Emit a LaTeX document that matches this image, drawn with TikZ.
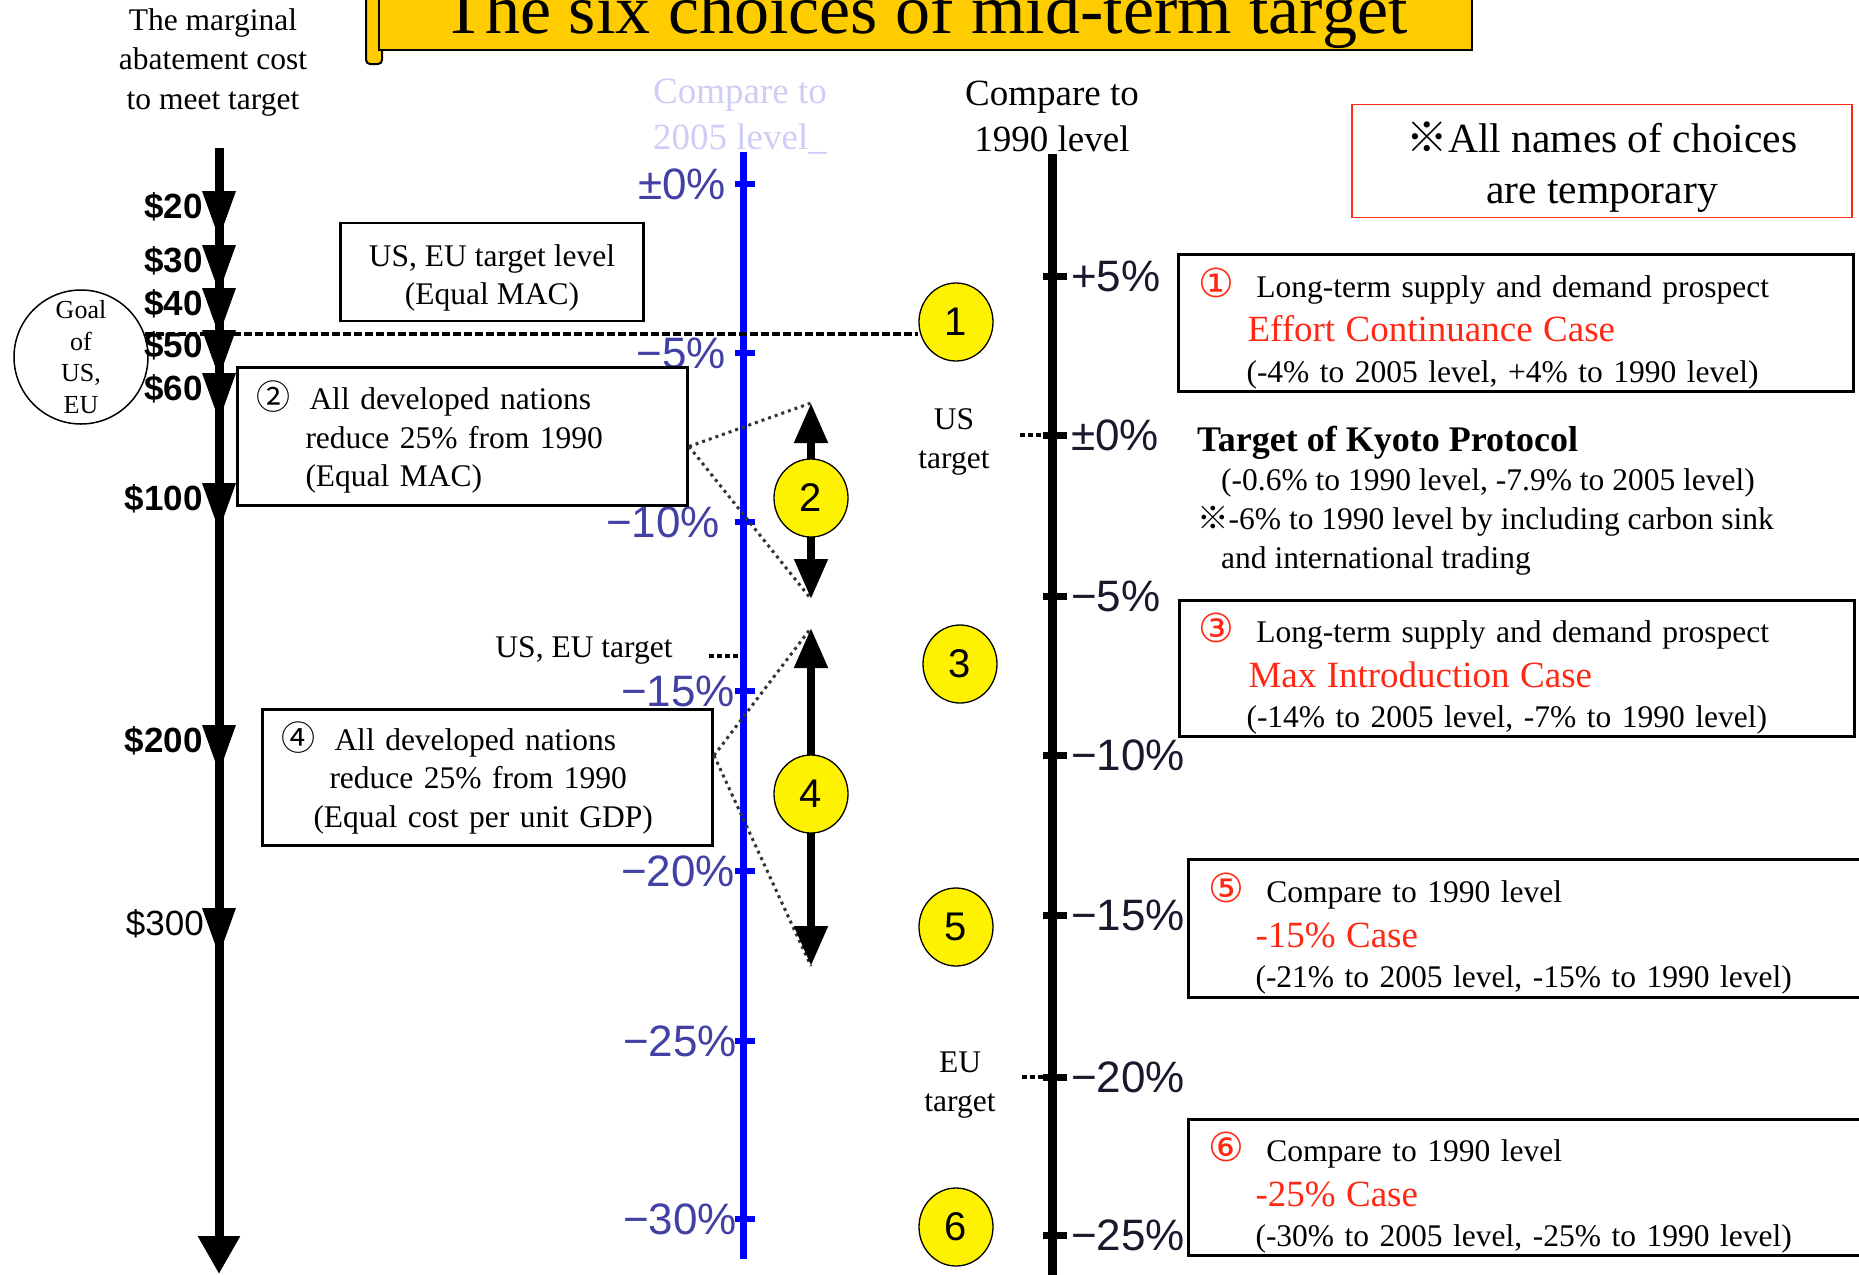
\documentclass[tikz,border=0pt]{standalone}
\usepackage{fontspec}
\setmainfont{Liberation Serif}
\setsansfont{Liberation Sans}
\newfontfamily\cjkfont{Noto Sans CJK JP}
\newfontfamily\symfont{DejaVu Sans}
\usetikzlibrary{shapes,arrows.meta,positioning,calc}

\definecolor{banner}{RGB}{255,204,0}
\definecolor{fadeblue}{RGB}{205,205,245}
\definecolor{scaleblue}{RGB}{65,65,165}
\definecolor{scaledark}{RGB}{25,25,45}
\definecolor{casered}{RGB}{255,40,20}

\newcommand{\cnum}[1]{{\cjkfont\fontsize{34}{34}\selectfont #1}}
\newcommand{\rednum}[1]{{\color{casered}\symfont\fontsize{40}{40}\selectfont #1}}
\newcommand{\redcase}[1]{\raisebox{-2pt}{\color{casered}\fontsize{37}{42.5}\selectfont #1}}
\newcommand{\refmark}{{\cjkfont ※}}

\begin{document}
\begin{tikzpicture}[x=1pt, y=-1pt,
        box/.style={draw, line width=3pt, rectangle, align=left, inner ysep=0pt, anchor=north west},
        casebox/.style={box, font=\fontsize{31.5}{42.5}\selectfont},
        choicebox/.style={box, inner xsep=19pt, text width=412pt, minimum width=450pt, font=\fontsize{31.5}{38.5}\selectfont},
        numdisc/.style={ellipse, draw, line width=1.3pt, fill=yellow, minimum width=74pt, minimum height=78pt, inner sep=0pt, font=\sffamily\fontsize{40}{40}\selectfont},
        costlbl/.style={anchor=east, inner sep=0pt, font=\sffamily\bfseries\fontsize{35}{35}\selectfont},
        pctblue/.style={anchor=east, inner sep=0pt, text=scaleblue, font=\sffamily\fontsize{44}{44}\selectfont},
        pctdark/.style={anchor=west, inner sep=0pt, text=scaledark, font=\sffamily\fontsize{44}{44}\selectfont},
        plain/.style={align=center, inner sep=0pt, font=\fontsize{31.5}{38.5}\selectfont},
        dotline/.style={line width=3pt, dash pattern=on 3pt off 4pt, black!80},
        markdash/.style={line width=4pt, dash pattern=on 5pt off 3pt},
        dblarrow/.style={line width=8pt, {Triangle[width=32pt,length=40pt]}-{Triangle[width=32pt,length=40pt]}}
    ]
    \clip (0,0) rectangle (1859,1274);

    % title banner
    \filldraw[fill=banner, line width=2pt, rounded corners=4pt] (366,-10) rectangle (382,64);
    \filldraw[fill=banner, line width=2.5pt] (379,-10) rectangle (1472,50);
    \node[anchor=base, inner sep=0pt, font=\fontsize{70}{70}\selectfont] (title) at (925,33) {The six choices of mid-term target};

    % headings over the three scales
    \node[plain, font=\fontsize{31.5}{39.5}\selectfont] (cost) at (213,62) {The marginal\\abatement cost\\to meet target};
    \node[plain, text=fadeblue, font=\fontsize{37}{46}\selectfont] (cmp05) at (740,117) {Compare to\\2005 level\_};
    \node[plain, font=\fontsize{37}{46}\selectfont] (cmp90) at (1052,116) {Compare to\\1990 level};

    % scales
    \coordinate (costtop) at (219,148);
    \coordinate (costbot) at (219,1274);
    \coordinate (b05top) at (743,152);
    \coordinate (b05bot) at (743,1259);
    \coordinate (k90top) at (1052,154);
    \coordinate (k90bot) at (1052,1280);

    \draw[line width=9pt, -{Triangle[width=40pt,length=38pt]}] (costtop) -- (costbot);
    \foreach \y/\cost in {207/20, 261/30, 304/40, 346/50, 389/60, 499/100, 741/200} {
        \fill (202,\y-16) -- (236,\y-16) -- (219,\y+31) -- cycle;
        \node[costlbl] (mac\cost) at (203,\y) {\$\cost};
    }
    \fill (202,908) -- (236,908) -- (219,955) -- cycle;
    \node[costlbl, font=\sffamily\fontsize{35}{35}\selectfont] (mac300) at (204,924) {\$300};

    \draw[blue, line width=7pt] (b05top) -- (b05bot);
    \foreach \y/\lbl/\xr [count=\i] in {184/{±0\%}/726, 353/{−5\%}/726, 522/{−10\%}/720, 691/{−15\%}/735, 871/{−20\%}/735, 1041/{−25\%}/737, 1219/{−30\%}/737} {
        \draw[blue, line width=6pt] (735,\y) -- (755,\y);
        \node[pctblue] (p05\i) at (\xr,\y) {\lbl};
    }

    \draw[line width=9pt] (k90top) -- (k90bot);
    \foreach \y/\lbl [count=\i] in {276/{+5\%}, 435/{±0\%}, 596/{−5\%}, 755/{−10\%}, 915/{−15\%}, 1077/{−20\%}, 1235/{−25\%}} {
        \draw[line width=7pt] (1043,\y) -- (1067,\y);
        \node[pctdark] (p90\i) at (1071,\y) {\lbl};
    }

    % left side
    \node[circle, draw, line width=1.5pt, minimum size=134pt, inner sep=0pt, align=center, font=\fontsize{26}{31.5}\selectfont] (goal) at (81,357) {Goal\\of\\US,\\EU};
    \node[draw, line width=2.2pt, minimum width=303pt, minimum height=98pt, align=center, font=\fontsize{31.5}{38}\selectfont] (tgtlvl) at (492,272) {\rule{0pt}{34pt}US, EU target level\\(Equal MAC)};
    \node[choicebox, minimum height=138pt] (b2) at (236,366) {\rule{0pt}{30pt}\cnum{②}\hspace{19pt}All developed nations\\
        \hspace*{49pt}reduce 25\% from 1990\\
        \hspace*{49pt}(Equal MAC)};
    \node[choicebox, minimum height=136pt] (b4) at (261,708) {\cnum{④}\hspace{19pt}All developed nations\\
        \hspace*{48pt}reduce 25\% from 1990\\
        \hspace*{32pt}(Equal cost per unit GDP)};
    \node[plain] (useu) at (584,650) {US, EU target};
    \node[plain] (ustgt) at (954,442) {US\\target};
    \node[plain] (eutgt) at (960,1085) {EU\\target};

    % right side
    \node[draw=casered, line width=1.8pt, minimum width=500pt, minimum height=113pt, align=center, font=\fontsize{41.5}{51}\selectfont] (note) at (1602,161) {\rule{0pt}{42pt}\refmark All names of choices\\are temporary};
    \node[casebox, inner xsep=20pt, text width=635pt, minimum height=137pt] (k1) at (1177,253) {\rule{0pt}{40pt}\rednum{①}\hspace{22pt}Long-term supply and demand prospect\\
        \hspace*{49pt}\redcase{Effort Continuance Case}\\
        \hspace*{48pt}(-4\% to 2005 level, +4\% to 1990 level)};
    \node[anchor=north west, align=left, inner sep=0pt, font=\fontsize{31.5}{39}\selectfont] (kyoto) at (1197,426) {{\bfseries\fontsize{36}{39}\selectfont Target of Kyoto Protocol}\\
        \hspace*{24pt}(-0.6\% to 1990 level, -7.9\% to 2005 level)\\
        \refmark-6\% to 1990 level by including carbon sink\\
        \hspace*{24pt}and international trading};
    \node[casebox, inner xsep=19pt, text width=637pt, minimum height=136pt] (k3) at (1178,599) {\rule{0pt}{40pt}\rednum{③}\hspace{22pt}Long-term supply and demand prospect\\
        \hspace*{50pt}\redcase{Max Introduction Case}\\
        \hspace*{48pt}(-14\% to 2005 level, -7\% to 1990 level)};
    \node[casebox, inner xsep=20pt, text width=650pt, minimum height=138pt] (k5) at (1187,858) {\rule{0pt}{40pt}\rednum{⑤}\hspace{22pt}Compare to 1990 level\\
        \hspace*{47pt}\redcase{-15\% Case}\\
        \hspace*{47pt}(-21\% to 2005 level, -15\% to 1990 level)};
    \node[casebox, inner xsep=20pt, text width=650pt, minimum height=136pt] (k6) at (1187,1118) {\rule{0pt}{40pt}\rednum{⑥}\hspace{22pt}Compare to 1990 level\\
        \hspace*{47pt}\redcase{-25\% Case}\\
        \hspace*{47pt}(-30\% to 2005 level, -25\% to 1990 level)};

    % ranges of choices 2 and 4
    \coordinate (a2top) at (811,403);
    \coordinate (a2bot) at (811,599);
    \coordinate (a4top) at (811,628);
    \coordinate (a4bot) at (811,966);
    \draw[dotline] ($(b2.east)+(0,10)$) -- (a2top);
    \draw[dotline] ($(b2.east)+(0,10)$) -- (a2bot);
    \draw[dotline] ($(b4.east)+(0,-22)$) -- (a4top);
    \draw[dotline] ($(b4.east)+(0,-22)$) -- (a4bot);
    \draw[dblarrow] (a2top) -- (a2bot);
    \draw[dblarrow] (a4top) -- (a4bot);

    % the six choices
    \node[numdisc] (c1) at (956,322) {1};
    \node[numdisc] (c2) at (811,498) {2};
    \node[numdisc] (c3) at (960,664) {3};
    \node[numdisc] (c4) at (811,794) {4};
    \node[numdisc] (c5) at (956,927) {5};
    \node[numdisc] (c6) at (956,1227) {6};

    \draw[line width=4pt, dash pattern=on 8pt off 3pt] (goal.20) -- (goal.20 -| c1.west);
    \draw[markdash] ($(useu.east)+(36,6)$) -- ($(useu.east -| b05top)+(-4,6)$);
    \draw[markdash] ($(ustgt.east)+(30,-7)$) -- ($(ustgt.east -| k90top)+(0,-7)$);
    \draw[markdash] ($(eutgt.east)+(26,-8)$) -- ($(eutgt.east -| k90top)+(0,-8)$);
\end{tikzpicture}
\end{document}
